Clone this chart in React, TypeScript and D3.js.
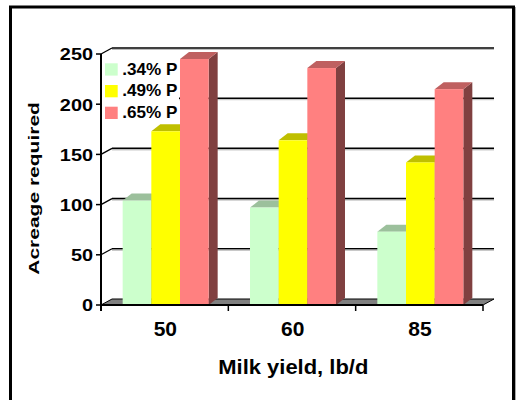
import React from "react";
import * as d3 from "d3";

const categories = ["50", "60", "85"];
const seriesNames = [".34% P", ".49% P", ".65% P"];
const p034 = [104, 97, 73];
const p049 = [173, 164, 142];
const p065 = [245, 236, 215];
const yTicks = [0, 50, 100, 150, 200, 250];

const seriesValues = [p034, p049, p065];
const fronts = ["#CCFFCC", "#FFFF00", "#FF8080"];
const tops = ["#9CC09C", "#BFBF00", "#BF6060"];
const sides = ["#669966", "#808000", "#804040"];

const FONT = "'Liberation Sans', Arial, Helvetica, sans-serif";

export default function App() {
  const W = 519, H = 400;
  const x0 = 101, x1 = 483;
  const y = d3.scaleLinear().domain([0, 250]).range([305, 54]);
  const x = d3.scaleBand().domain(categories).range([x0, x1]);
  const groupW = 86;
  const xs = d3.scaleBand().domain(seriesNames).range([0, groupW]);
  const gOff = (x.bandwidth() - groupW) / 2 + 1;
  const ddx = 11, ddy = -6; // wall depth
  const bdx = 9, bdy = -7; // bar depth
  const base = y(0);

  return (
    <svg width={W} height={H} style={{ position: "absolute", left: 0, top: 0, background: "#fff" }} fontFamily={FONT}>
      <rect x={0} y={0} width={W} height={H} fill="#fff" />
      {/* frame */}
      <rect x={10.5} y={7} width={503} height={410} fill="none" stroke="#000" strokeWidth={3} />
      <line x1={515.5} y1={7} x2={515.5} y2={400} stroke="#aaa" strokeWidth={1} />

      {/* gridlines on back wall */}
      {yTicks.filter(t => t > 0).map(t => (
        <g key={"g" + t}>
          <line x1={x0} y1={y(t)} x2={x0 + ddx} y2={y(t) + ddy} stroke="#000" strokeWidth={1.3} />
          <line x1={x0 + ddx} y1={y(t) + ddy} x2={x1 + ddx} y2={y(t) + ddy} stroke="#000" strokeWidth={1.6} />
          <line x1={x0 + ddx} y1={y(t) + ddy + 1.5} x2={x1 + ddx} y2={y(t) + ddy + 1.5} stroke="#bbb" strokeWidth={1} />
        </g>
      ))}

      {/* floor */}
      <polygon
        points={`${x0},${base} ${x0 + ddx},${base + ddy} ${x1 + ddx},${base + ddy} ${x1},${base}`}
        fill="#808080"
        stroke="#000"
        strokeWidth={1}
      />

      {/* bars */}
      {categories.map((c, ci) => (
        <g key={c}>
          {seriesNames.map((s, si) => {
            const v = seriesValues[si][ci];
            const bx = (x(c) as number) + gOff + (xs(s) as number);
            const bw = xs.bandwidth();
            const yt = y(v);
            return (
              <g key={s}>
                <polygon
                  points={`${bx + bw},${yt} ${bx + bw + bdx},${yt + bdy} ${bx + bw + bdx},${base + bdy} ${bx + bw},${base}`}
                  fill={sides[si]}
                />
                <polygon
                  points={`${bx},${yt} ${bx + bdx},${yt + bdy} ${bx + bw + bdx},${yt + bdy} ${bx + bw},${yt}`}
                  fill={tops[si]}
                />
                <rect x={bx} y={yt} width={bw} height={base - yt} fill={fronts[si]} />
              </g>
            );
          })}
        </g>
      ))}

      {/* axes */}
      <line x1={x0} y1={y(250)} x2={x0} y2={base + 6} stroke="#000" strokeWidth={2} />
      <line x1={x0} y1={base} x2={x1} y2={base} stroke="#000" strokeWidth={2} />
      {yTicks.map(t => (
        <g key={"t" + t}>
          <line x1={x0 - 5} y1={y(t)} x2={x0} y2={y(t)} stroke="#000" strokeWidth={1.5} />
          <text
            transform={`translate(93,${y(t) + 6.3}) scale(1.22,1)`}
            textAnchor="end"
            fontSize={16.3}
            fontWeight="bold"
            fill="#000"
          >
            {t}
          </text>
        </g>
      ))}
      {[x0, ...categories.map(c => (x(c) as number) + x.bandwidth())].map((tx, i) => (
        <line key={"xt" + i} x1={tx} y1={base} x2={tx} y2={base + 6} stroke="#000" strokeWidth={1.5} />
      ))}
      {categories.map(c => (
        <text
          key={"xl" + c}
          x={(x(c) as number) + x.bandwidth() / 2 + 0.7}
          y={336}
          textAnchor="middle"
          fontSize={21}
          fontWeight="bold"
          fill="#000"
        >
          {c}
        </text>
      ))}

      {/* axis titles */}
      <text x={293.3} y={374.3} textAnchor="middle" fontSize={21} fontWeight="bold" textLength={150} lengthAdjust="spacingAndGlyphs">
        Milk yield, lb/d
      </text>
      <text
        transform={`translate(38.6,188.4) rotate(-90) scale(1.4,1)`}
        textAnchor="middle"
        fontSize={15}
        fontWeight="bold"
      >
        Acreage required
      </text>

      {/* legend */}
      <rect x={102} y={58} width={77} height={65} fill="#fff" />
      {seriesNames.map((s, i) => (
        <g key={"lg" + s}>
          <rect x={105} y={63.3 + i * 21.7} width={12.7} height={12.3} fill={fronts[i]} />
          <text
            transform={`translate(122.3,${74.8 + i * 21.5}) scale(1.07,1)`}
            fontSize={16}
            fontWeight="bold"
          >
            {s}
          </text>
        </g>
      ))}
    </svg>
  );
}
